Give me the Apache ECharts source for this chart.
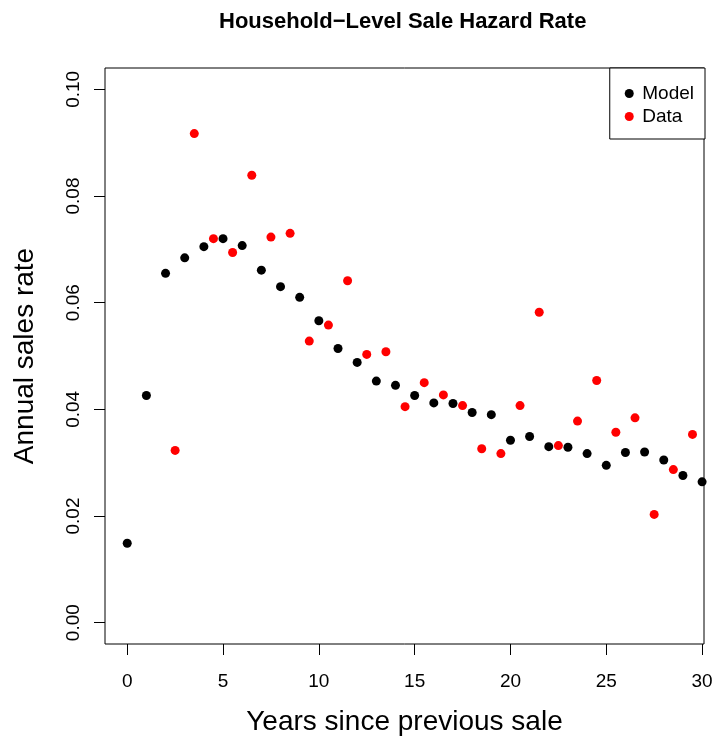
<!DOCTYPE html>
<html>
<head>
<meta charset="utf-8">
<script src="https://cdn.jsdelivr.net/npm/echarts@6/dist/echarts.min.js"></script>
<style>
  html, body { margin: 0; padding: 0; background: #fff; }
  #chart { width: 712px; height: 736px; }
</style>
</head>
<body>
<div id="chart"></div>
<script>
// Model: yearly hazard at integer years 0..30
const modelYears = [0,1,2,3,4,5,6,7,8,9,10,11,12,13,14,15,16,17,18,19,20,21,22,23,24,25,26,27,28,29,30];
const modelRates = [0.0149,0.0426,0.0655,0.0684,0.0705,0.0720,0.0707,0.0661,0.0630,0.0610,0.0566,0.0514,0.0488,0.0453,0.0445,0.0426,0.0412,0.0411,0.0394,0.0390,0.0342,0.0349,0.0330,0.0329,0.0317,0.0295,0.0319,0.0320,0.0305,0.0276,0.0264];
// Data: observed hazard at half years 2.5..29.5
const dataYears = [2.5,3.5,4.5,5.5,6.5,7.5,8.5,9.5,10.5,11.5,12.5,13.5,14.5,15.5,16.5,17.5,18.5,19.5,20.5,21.5,22.5,23.5,24.5,25.5,26.5,27.5,28.5,29.5];
const dataRates = [0.0323,0.0917,0.0720,0.0694,0.0839,0.0723,0.0730,0.0528,0.0558,0.0641,0.0503,0.0508,0.0405,0.0450,0.0427,0.0407,0.0326,0.0317,0.0407,0.0582,0.0332,0.0378,0.0454,0.0357,0.0384,0.0203,0.0287,0.0353];
const xTicks = [0,5,10,15,20,25,30];
const yTicks = [0,0.02,0.04,0.06,0.08,0.10];

const FONT = 'Liberation Sans, Arial, Helvetica, sans-serif';
const chart = echarts.init(document.getElementById('chart'), null, { renderer: 'canvas' });

const zip = (xs, ys) => xs.map((x, i) => [x, ys[i]]);

chart.setOption({
  animation: false,
  backgroundColor: '#ffffff',
  textStyle: { fontFamily: FONT },
  graphic: [{
    type: 'text',
    left: 404 - 185,
    top: 11,
    style: {
      text: 'Household\u2212Level Sale Hazard Rate',
      font: 'bold 22px ' + FONT,
      fill: '#000'
    }
  }],
  grid: {
    left: 105, right: 8, top: 68, bottom: 92,
    containLabel: false,
    outerBoundsMode: 'none',
    show: true, borderColor: '#000', borderWidth: 1, backgroundColor: 'transparent'
  },
  legend: {
    orient: 'vertical',
    right: 7, top: 68,
    backgroundColor: '#fff',
    borderColor: '#000', borderWidth: 1, borderRadius: 0,
    padding: [16, 11, 13, 15],
    itemWidth: 16, itemHeight: 9, itemGap: 4,
    textStyle: { fontSize: 19, fontFamily: FONT, color: '#000', lineHeight: 19 },
    data: [
      { name: 'Model', icon: 'circle', itemStyle: { color: '#000000', opacity: 1 } },
      { name: 'Data', icon: 'circle', itemStyle: { color: '#ff0000', opacity: 1 } }
    ]
  },
  xAxis: {
    type: 'value',
    min: -1.16, max: 30.1,
    name: 'Years since previous sale',
    nameLocation: 'middle',
    nameGap: 64,
    nameTextStyle: { fontSize: 28, fontFamily: FONT, color: '#000' },
    axisLine: { show: false, onZero: false },
    splitLine: { show: false },
    axisTick: { show: true, length: 11, inside: false, customValues: xTicks, lineStyle: { color: '#000', width: 1 } },
    axisLabel: { customValues: xTicks, margin: 28, fontSize: 19, color: '#000', fontFamily: FONT, showMinLabel: true, showMaxLabel: true }
  },
  yAxis: {
    type: 'value',
    min: -0.004, max: 0.104,
    name: 'Annual sales rate',
    nameLocation: 'middle',
    nameGap: 66,
    nameTextStyle: { fontSize: 28, fontFamily: FONT, color: '#000' },
    axisLine: { show: false, onZero: false },
    splitLine: { show: false },
    axisTick: { show: true, length: 11, inside: false, customValues: yTicks, lineStyle: { color: '#000', width: 1 } },
    axisLabel: {
      customValues: yTicks, rotate: 90, margin: 22, fontSize: 19, color: '#000', fontFamily: FONT,
      formatter: v => v.toFixed(2), showMinLabel: true, showMaxLabel: true
    }
  },
  series: [
    {
      name: 'Model', type: 'scatter', symbol: 'circle', symbolSize: 9,
      itemStyle: { color: '#000000', opacity: 1 }, z: 3,
      data: zip(modelYears, modelRates)
    },
    {
      name: 'Data', type: 'scatter', symbol: 'circle', symbolSize: 9,
      itemStyle: { color: '#ff0000', opacity: 1 }, z: 4,
      data: zip(dataYears, dataRates)
    }
  ]
});
</script>
</body>
</html>
